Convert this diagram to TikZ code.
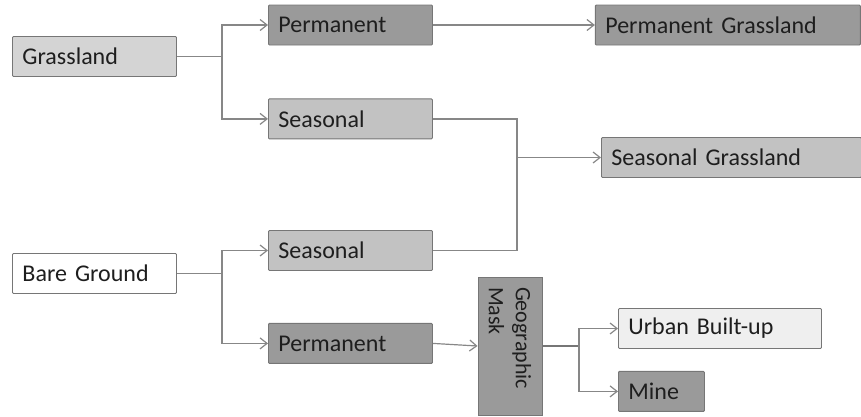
\documentclass[tikz,border=0pt]{standalone}
\usepackage{fontspec}
\setmainfont{Carlito}
\usetikzlibrary{arrows.meta, positioning}
\definecolor{darkfill}{RGB}{154, 154, 154}
\definecolor{midfill}{RGB}{194, 194, 194}
\definecolor{lightfill}{RGB}{212, 212, 212}
\definecolor{palefill}{RGB}{239, 239, 239}
\definecolor{boxline}{RGB}{118, 118, 118}
\definecolor{linkcolor}{RGB}{135, 135, 135}
\definecolor{textcolor}{RGB}{30, 30, 30}
\tikzset{
  box/.style={
    rectangle, rounded corners=1pt,
    minimum height=40pt, inner xsep=10pt, inner ysep=0pt,
    align=left, anchor=west,
    font=\fontsize{24}{28}\selectfont, text=textcolor,
    draw=boxline, line width=0.9pt
  },
  darkbox/.style={box, fill=darkfill},
  midbox/.style={box, fill=midfill},
  lightbox/.style={box, fill=lightfill},
  palebox/.style={box, fill=palefill},
  whitebox/.style={box, fill=white},
  maskbox/.style={
    rectangle, rotate=-90,
    minimum height=64pt, text width=118pt,
    inner xsep=10pt, inner ysep=0pt, align=left,
    font=\fontsize{22}{27}\selectfont, text=textcolor,
    fill=darkfill, draw=boxline, line width=0.9pt
  },
  link/.style={
    draw=linkcolor, line width=1.2pt
  },
  arr/.style={
    link, -{Straight Barb[length=7pt, width=11pt]}
  }
}

\begin{document}
\begin{tikzpicture}[x=1pt, y=-1pt]

  \useasboundingbox (0,0) rectangle (861,416);

  % ── Source classes ─────────────────────────────────────────
  \node[lightbox, text width=144pt] (grass) at (12,56.5)  {Grassland};
  \node[whitebox, text width=144pt] (bare)  at (12,273.5) {Bare Ground};

  % ── Grassland split ────────────────────────────────────────
  \node[darkbox, text width=144pt] (permA) at (268,25) {Permanent};
  \node[midbox,  text width=144pt, below=53pt of permA.south west, anchor=north west] (seasA) {Seasonal};

  % ── Bare ground split ──────────────────────────────────────
  \node[midbox,  text width=144pt] (seasB) at (268,250.5) {Seasonal};
  \node[darkbox, text width=144pt, below=52pt of seasB.south west, anchor=north west] (permB) {Permanent};

  % ── Results ────────────────────────────────────────────────
  \node[darkbox, text width=245pt, right=162pt of permA.east, anchor=west] (pgrass) {Permanent Grassland};
  \node[midbox,  text width=240pt] (sgrass) at (601,157.5) {Seasonal Grassland};

  % ── Geographic mask ────────────────────────────────────────
  \node[maskbox] (mask) at (510,346) {Geographic\\Mask};
  \node[palebox, text width=183pt] (urban) at (618,328.5) {Urban Built-up};
  \node[darkbox, text width=66pt, below=22pt of urban.south west, anchor=north west] (mine) {Mine};

  % ── Junctions ──────────────────────────────────────────────
  \coordinate (jgrass) at (222,56.5);
  \coordinate (jbare)  at (222,273.5);
  \coordinate (jseas)  at (517,157.5);
  \coordinate (jmask)  at (579,346);

  % ── Connectors ─────────────────────────────────────────────
  \draw[link] (grass.east) -- (jgrass);
  \draw[arr]  (jgrass) |- (permA.west);
  \draw[arr]  (jgrass) |- (seasA.west);

  \draw[link] (bare.east) -- (jbare);
  \draw[arr]  (jbare) |- (seasB.west);
  \draw[arr]  (jbare) |- (permB.west);

  \draw[arr]  (permA.east) -- (pgrass.west);
  \draw[link] (seasA.east) -| (jseas);
  \draw[link] (seasB.east) -| (jseas);
  \draw[arr]  (jseas) -- (sgrass.west);

  \draw[arr]  (permB.east) -- (mask.south);
  \draw[link, draw=boxline] (mask.north) -- (jmask);
  \draw[arr]  (jmask) |- (urban.west);
  \draw[arr]  (jmask) |- (mine.west);

\end{tikzpicture}
\end{document}
